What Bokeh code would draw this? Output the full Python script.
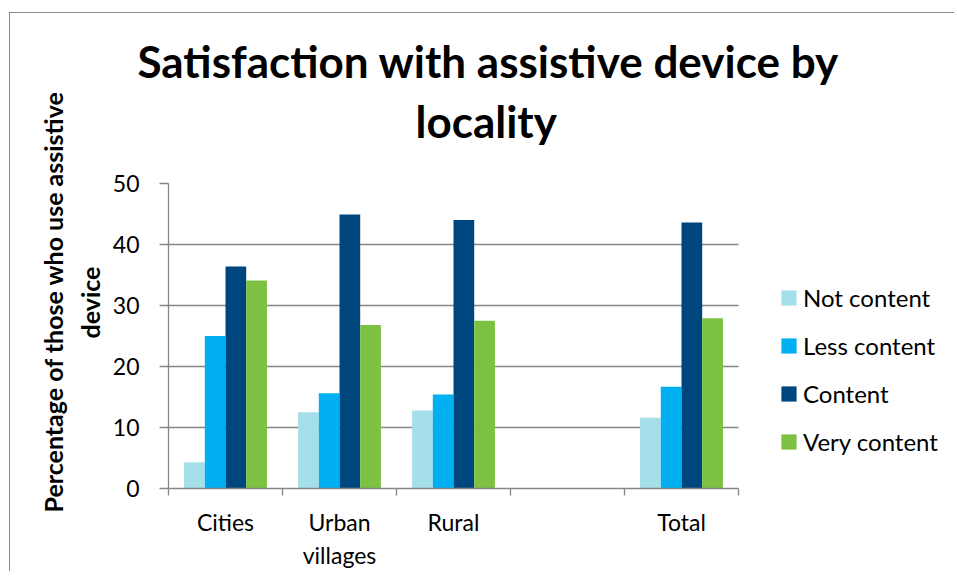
import math
from bokeh.plotting import figure
from bokeh.models import (ColumnDataSource, Range1d, FixedTicker, Title, Legend,
                          LegendItem, Grid)
from bokeh.embed import file_html
from bokeh.resources import INLINE

# ---- data ----
categories = ["Cities", "Urban\nvillages", "Rural", "", "Total"]
series_names = ["Not content", "Less content", "Content", "Very content"]
not_content = [4.3, 12.5, 12.8, None, 11.6]
less_content = [25.0, 15.6, 15.4, None, 16.7]
content = [36.4, 44.9, 44.0, None, 43.6]
very_content = [34.1, 26.8, 27.5, None, 27.9]
y_ticks = [0, 10, 20, 30, 40, 50]

series_values = [not_content, less_content, content, very_content]
colors = ["#A5DFE9", "#00B0F0", "#00467E", "#7CC142"]

FONT = "Lato"
GRAY = "#868686"

# chart area is inset (left/top border like the reference's chart frame)
OX, OY = 10, 13
W, H = 945, 559
LEFT, TOP, BOTTOM = 168 - OX, 183 - OY, 489 - OY
AXIS_RIGHT = 738 - OX
n = len(categories)
x_end = n * (W - LEFT) / (AXIS_RIGHT - LEFT)

p = figure(width=W, height=H, output_backend="svg", toolbar_location=None,
           x_range=Range1d(0, x_end), y_range=Range1d(0, 50),
           min_border_left=LEFT, min_border_right=0, min_border_top=TOP,
           min_border_bottom=H - BOTTOM)
p.outline_line_color = None
p.styles = {"margin-left": "9px", "margin-top": "12px",
            "border-left": "1px solid #8C8C8C", "border-top": "1px solid #8C8C8C"}

# gridlines limited to the category span
p.xgrid.grid_line_color = None
if "cross_bounds" in Grid.properties():
    p.ygrid.ticker = FixedTicker(ticks=y_ticks)
    p.ygrid.cross_bounds = (0, n)
    p.ygrid.grid_line_color = GRAY
    p.ygrid.grid_line_width = 1.3
else:
    p.ygrid.grid_line_color = None
    p.segment(x0=[0] * len(y_ticks), x1=[n] * len(y_ticks), y0=y_ticks, y1=y_ticks,
              line_color=GRAY, line_width=1.3)

# bars
bar_w = 0.1815
offsets = [-0.2725, -0.0908, 0.0908, 0.2725]
renderers = []
for name, vals, col, off in zip(series_names, series_values, colors, offsets):
    xs, tops = [], []
    for i, v in enumerate(vals):
        if v is not None:
            xs.append(i + 0.5 + off)
            tops.append(v)
    src = ColumnDataSource(dict(x=xs, top=tops))
    r = p.vbar(x="x", top="top", bottom=0, width=bar_w, source=src,
               fill_color=col, line_color=None)
    renderers.append(r)

# y axis
p.yaxis.ticker = FixedTicker(ticks=y_ticks)
p.yaxis.axis_line_color = GRAY
p.yaxis.axis_line_width = 1.3
p.yaxis.major_tick_line_color = GRAY
p.yaxis.major_tick_line_width = 1.3
p.yaxis.major_tick_out = 9
p.yaxis.major_tick_in = 0
p.yaxis.minor_tick_line_color = None
p.yaxis.major_label_text_font = FONT
p.yaxis.major_label_text_font_size = "23px"
p.yaxis.major_label_text_color = "black"
p.yaxis.major_label_standoff = 20

# x axis: ticks at category boundaries (minor), labels at centres
centres = [i + 0.5 for i in range(n)]
bounds = list(range(n + 1))
p.xaxis.bounds = (0, n)
p.xaxis.ticker = FixedTicker(ticks=centres, minor_ticks=bounds)
p.xaxis.major_label_overrides = {c: lab for c, lab in zip(centres, categories)}
p.xaxis.axis_line_color = GRAY
p.xaxis.axis_line_width = 1.3
p.xaxis.major_tick_line_color = None
p.xaxis.major_tick_out = 0
p.xaxis.major_tick_in = 0
p.xaxis.minor_tick_line_color = GRAY
p.xaxis.minor_tick_line_width = 1.3
p.xaxis.minor_tick_out = 7
p.xaxis.minor_tick_in = 0
p.xaxis.major_label_text_font = FONT
p.xaxis.major_label_text_font_size = "23px"
p.xaxis.major_label_text_color = "black"
p.xaxis.major_label_standoff = 12

# chart title: spacer + two lines in the top panel (first added = nearest the plot)
p.add_layout(Title(text=" ", text_font_size="1px", standoff=34), "above")
p.add_layout(Title(text="locality", align="left", offset=247, standoff=0,
                   text_font=FONT, text_font_style="bold", text_font_size="44px",
                   text_color="black"), "above")
p.add_layout(Title(text="Satisfaction with assistive device by", align="left",
                   offset=-31, standoff=12,
                   text_font=FONT, text_font_style="bold", text_font_size="44px",
                   text_color="black"), "above")

# y axis title: two rotated lines in the left panel
p.add_layout(Title(text="device", align="left", offset=150, standoff=10,
                   text_font=FONT, text_font_style="bold", text_font_size="25px",
                   text_color="black"), "left")
p.add_layout(Title(text="Percentage of those who use assistive", align="left",
                   offset=-24, standoff=0,
                   text_font=FONT, text_font_style="bold", text_font_size="25px",
                   text_color="black"), "left")

legend = Legend(items=[LegendItem(label=nm, renderers=[r]) for nm, r in zip(series_names, renderers)],
                location=(611, 32), orientation="vertical",
                glyph_width=19, glyph_height=19, label_height=28, spacing=19,
                label_standoff=5, padding=0, margin=0,
                border_line_color=None, background_fill_alpha=0,
                label_text_font=FONT, label_text_font_size="24px",
                label_text_color="black", label_text_baseline="middle")
p.add_layout(legend, "center")

open("out.html", "w").write(file_html(p, INLINE))
